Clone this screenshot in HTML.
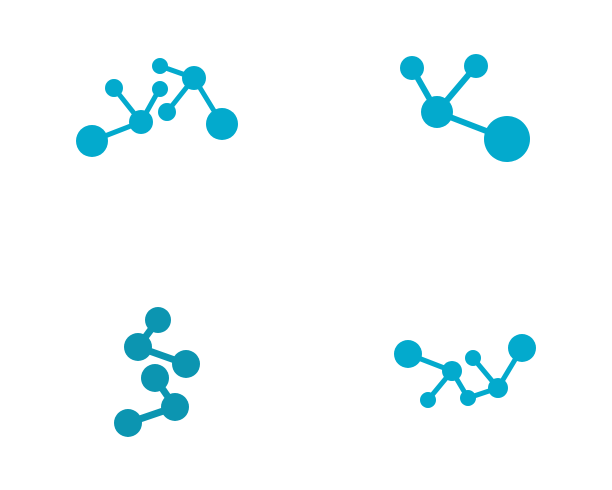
<!DOCTYPE html>
<html><head><meta charset="utf-8"><style>html,body{margin:0;padding:0;background:#fff}svg{display:block}</style></head>
<body>
<svg width="612" height="490" viewBox="0 0 612 490">
<g fill="#03aacd" stroke="#03aacd" stroke-width="5" stroke-linecap="round">
<line x1="92" y1="141" x2="141" y2="122"/><line x1="141" y1="122" x2="114" y2="88"/><line x1="141" y1="122" x2="160" y2="88"/>
<line x1="167" y1="112" x2="194" y2="78"/><line x1="160" y1="66" x2="194" y2="78"/><line x1="194" y1="78" x2="222" y2="124"/>
<g stroke="none"><circle cx="92" cy="141" r="16"/><circle cx="141" cy="122" r="12"/><circle cx="114" cy="88" r="9"/><circle cx="160" cy="89" r="8"/><circle cx="160" cy="66" r="8"/><circle cx="194" cy="78" r="12"/><circle cx="167" cy="112" r="9"/><circle cx="222" cy="124" r="16"/></g>
</g>
<g fill="#03aacd" stroke="#03aacd" stroke-width="6" stroke-linecap="round">
<line x1="412" y1="68" x2="437" y2="112"/><line x1="476" y1="66" x2="437" y2="112"/><line x1="437" y1="112" x2="507" y2="139"/>
<g stroke="none"><circle cx="412" cy="68" r="12"/><circle cx="476" cy="66" r="12"/><circle cx="437" cy="112" r="16"/><circle cx="507" cy="139" r="23"/></g>
</g>
<g fill="#0c95b1" stroke="#0c95b1" stroke-width="7" stroke-linecap="round">
<line x1="158" y1="320" x2="138" y2="347"/><line x1="138" y1="347" x2="186" y2="364"/><line x1="155" y1="378" x2="175" y2="407"/><line x1="175" y1="407" x2="128" y2="423"/>
<g stroke="none"><circle cx="158" cy="320" r="13"/><circle cx="138" cy="347" r="14"/><circle cx="186" cy="364" r="14"/><circle cx="155" cy="378" r="14"/><circle cx="175" cy="407" r="14"/><circle cx="128" cy="423" r="14"/></g>
</g>
<g fill="#03aacd" stroke="#03aacd" stroke-width="5" stroke-linecap="round">
<line x1="408" y1="354" x2="452" y2="371"/><line x1="452" y1="371" x2="428" y2="400"/><line x1="452" y1="371" x2="468" y2="398"/><line x1="473" y1="358" x2="498" y2="388"/><line x1="468" y1="398" x2="498" y2="388"/><line x1="498" y1="388" x2="522" y2="348"/>
<g stroke="none"><circle cx="408" cy="354" r="14"/><circle cx="452" cy="371" r="10"/><circle cx="473" cy="358" r="8"/><circle cx="428" cy="400" r="8"/><circle cx="468" cy="398" r="8"/><circle cx="498" cy="388" r="10"/><circle cx="522" cy="348" r="14"/></g>
</g>
</svg>
</body></html>
